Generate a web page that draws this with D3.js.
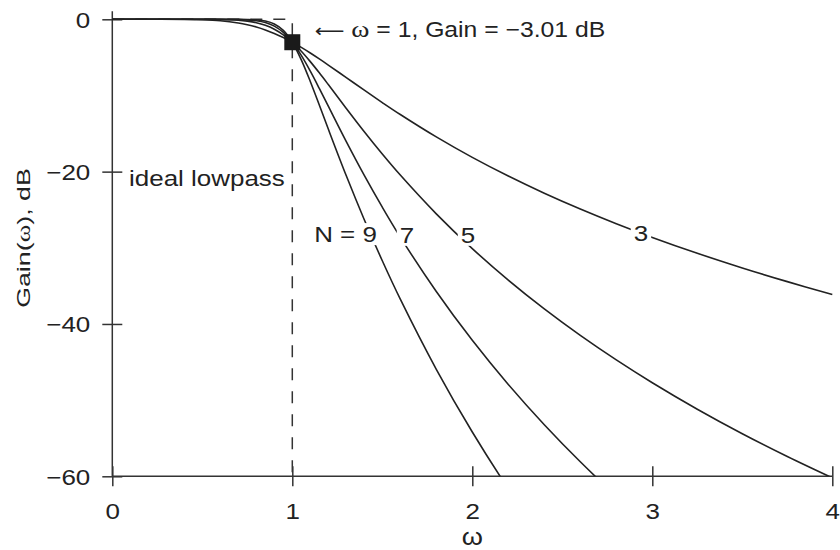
<!DOCTYPE html>
<html>
<head>
<meta charset="utf-8">
<script src="https://cdn.jsdelivr.net/npm/d3@7"></script>
<style>
  html, body { margin: 0; padding: 0; background: #fff; }
  svg { display: block; }
  text { font-family: "Liberation Sans", Arial, Helvetica, sans-serif; fill: #222; }
</style>
</head>
<body>
<svg id="chart" width="840" height="550"></svg>
<script>
// Butterworth lowpass magnitude response, gain in dB, for orders N = 3, 5, 7, 9
const omega = [0, 0.2, 0.4, 0.5, 0.6, 0.7, 0.75, 0.8, 0.85, 0.9, 0.95, 1.0, 1.05, 1.1, 1.15, 1.2,
               1.3, 1.4, 1.5, 1.6, 1.8, 2.0, 2.2, 2.4, 2.6, 2.8, 3.0, 3.25, 3.5, 3.75, 4.0];

const gainN3 = [0, 0, -0.018, -0.067, -0.198, -0.483, -0.711, -1.011, -1.390, -1.851, -2.393, -3.010,
                -3.692, -4.427, -5.202, -6.005, -7.654, -9.309, -10.931, -12.499, -15.442, -18.129,
                -20.583, -22.835, -24.912, -26.838, -28.633, -30.717, -32.646, -34.443, -36.125];
const gainN5 = [0, 0, 0, -0.004, -0.026, -0.121, -0.238, -0.443, -0.781, -1.299, -2.038, -3.010,
                -4.198, -5.556, -7.029, -8.568, -11.699, -14.760, -17.684, -20.451, -25.539, -30.107,
                -34.244, -38.022, -41.498, -44.716, -47.712, -51.188, -54.407, -57.403, -60.206];
const gainN7 = [0, 0, 0, 0, -0.003, -0.029, -0.077, -0.187, -0.425, -0.895, -1.725, -3.010,
                -4.742, -6.810, -9.072, -11.411, -16.061, -20.497, -24.667, -28.593, -35.734, -42.145,
                -47.939, -53.229, -58.096, -62.602, -66.797, -71.663, -76.170, -80.364, -84.288];
const gainN9 = [0, 0, 0, 0, 0, -0.007, -0.024, -0.078, -0.227, -0.607, -1.453, -3.010,
                -5.323, -8.169, -11.263, -14.413, -20.548, -26.313, -31.699, -36.743, -45.949, -54.185,
                -61.636, -68.438, -74.695, -80.489, -85.882, -92.138, -97.933, -103.325, -108.371];

const orders = ["3", "5", "7", "9"];
const seriesGain = [gainN3, gainN5, gainN7, gainN9];

// curve labels: text, and the ω / gain where each one sits on its curve
const curveLabels = ["N = 9", "7", "5", "3"];
const curveLabelOmega = [1.47, 1.637, 1.976, 2.937];
const curveLabelGain = [-28.2, -28.3, -28.3, -28.1];

const xTicks = [0, 1, 2, 3, 4];
const yTicks = [0, -20, -40, -60];

// cutoff point
const cutoffOmega = 1;
const cutoffGain = -3.01;

const svg = d3.select("#chart");
const ink = "#222";
const sx = 1.18; // horizontal stretch of the lettering

const x = d3.scaleLinear().domain([0, 4]).range([112.3, 832.3]);
const y = d3.scaleLinear().domain([-60, 0]).range([476.3, 19.3]);

// turn a text's x/y into a translate and widen its glyphs
function stretch(sel, k) {
  sel.each(function () {
    const t = d3.select(this);
    const tx = +t.attr("x") || 0, ty = +t.attr("y") || 0;
    t.attr("x", null).attr("y", null)
     .attr("transform", `translate(${tx},${ty}) scale(${k},1)`);
  });
}

// clip region: plot area
svg.append("defs").append("clipPath").attr("id", "plot")
  .append("rect")
  .attr("x", x(0)).attr("y", y(0) - 20)
  .attr("width", x(4) - x(0) + 2).attr("height", y(-60) - y(0) + 20);

// axes
const yAxis = svg.append("g")
  .attr("transform", `translate(${x(0)},0)`)
  .call(d3.axisLeft(y).tickValues(yTicks).tickSize(10).tickSizeOuter(0).tickPadding(12)
        .tickFormat(d => d === 0 ? "0" : "\u2212" + Math.abs(d)));
yAxis.select(".domain").remove();
yAxis.selectAll(".tick line").attr("x1", 10).attr("x2", -10).attr("stroke", "#333").attr("stroke-width", 1.5);
yAxis.selectAll(".tick text").attr("font-size", 22).attr("fill", ink).attr("dy", "0.36em")
  .attr("font-family", "Liberation Sans, Arial, sans-serif").call(stretch, sx);

const xAxis = svg.append("g")
  .attr("transform", `translate(0,${y(-60)})`)
  .call(d3.axisBottom(x).tickValues(xTicks).tickSize(10).tickSizeOuter(0).tickPadding(12)
        .tickFormat(d3.format("d")));
xAxis.select(".domain").remove();
xAxis.selectAll(".tick line").attr("y1", -10).attr("y2", 10).attr("stroke", "#333").attr("stroke-width", 1.5);
xAxis.selectAll(".tick text").attr("font-size", 22).attr("fill", ink).attr("dy", "0.95em")
  .attr("font-family", "Liberation Sans, Arial, sans-serif").call(stretch, sx);

// axis lines
svg.append("line")
  .attr("x1", x(0)).attr("x2", x(0)).attr("y1", y(0) - 8).attr("y2", y(-60))
  .attr("stroke", "#333").attr("stroke-width", 1.5);
svg.append("line")
  .attr("x1", x(0)).attr("x2", x(4)).attr("y1", y(-60)).attr("y2", y(-60))
  .attr("stroke", "#333").attr("stroke-width", 1.5);

// ideal lowpass (brick wall)
svg.append("path")
  .attr("d", d3.line().x(d => x(d[0])).y(d => y(d[1]))([[0, 0], [1, 0], [1, -60]]))
  .attr("fill", "none").attr("stroke", "#333").attr("stroke-width", 1.5)
  .attr("stroke-dasharray", "12,11");

// Butterworth curves
const line = d3.line()
  .x((d, i) => x(omega[i]))
  .y(d => y(d))
  .curve(d3.curveCatmullRom.alpha(0.5));

svg.append("g").attr("clip-path", "url(#plot)")
  .selectAll("path.curve")
  .data(seriesGain)
  .join("path")
  .attr("class", "curve")
  .attr("d", line)
  .attr("fill", "none")
  .attr("stroke", ink)
  .attr("stroke-width", 1.6);

// curve labels with a white knockout behind them
const lab = svg.append("g");
curveLabels.forEach((t, i) => {
  const g = lab.append("g");
  const txt = g.append("text")
    .attr("x", x(curveLabelOmega[i])).attr("y", y(curveLabelGain[i]))
    .attr("dy", "0.36em")
    .attr("text-anchor", i === 0 ? "end" : "middle")
    .attr("font-size", 22)
    .text(t)
    .call(stretch, sx);
  const bb = txt.node().getBBox();
  const w = bb.width * sx;
  const cx = x(curveLabelOmega[i]);
  const left = i === 0 ? cx - w : cx - w / 2;
  g.insert("rect", "text")
    .attr("x", left - 3).attr("y", y(curveLabelGain[i]) - 11)
    .attr("width", w + 6).attr("height", 22)
    .attr("fill", "#fff");
});

// "ideal lowpass" label
svg.append("text")
  .attr("x", x(0.093)).attr("y", y(-20.8))
  .attr("dy", "0.36em")
  .attr("font-size", 22)
  .text("ideal lowpass")
  .call(stretch, sx);

// cutoff marker
svg.append("rect")
  .attr("x", x(cutoffOmega) - 8).attr("y", y(cutoffGain) - 8)
  .attr("width", 16).attr("height", 16)
  .attr("fill", "#1a1a1a");

// cutoff annotation
const ann = svg.append("text")
  .attr("x", x(1.125)).attr("y", y(-1.27))
  .attr("dy", "0.36em")
  .attr("font-size", 21.5);
ann.append("tspan").attr("font-family", "DejaVu Sans, sans-serif").attr("font-size", 18).text("\u27f5");
ann.append("tspan").text(" ");
ann.append("tspan").attr("font-family", "Liberation Serif, Times New Roman, serif").attr("font-size", 24).text("\u03c9");
ann.append("tspan").text(" = 1, Gain = \u22123.01 dB");
ann.call(stretch, 1.15);

// axis titles
svg.append("text")
  .attr("x", x(2)).attr("y", 538)
  .attr("dy", "0.3em")
  .attr("text-anchor", "middle")
  .attr("font-family", "Liberation Serif, Times New Roman, serif")
  .attr("font-size", 23)
  .text("\u03c9")
  .call(stretch, sx);

const yt = svg.append("text")
  .attr("transform", `translate(23,238) rotate(-90) scale(1.41,1)`)
  .attr("dy", "0.36em")
  .attr("text-anchor", "middle")
  .attr("font-size", 19);
yt.append("tspan").text("Gain(");
yt.append("tspan").attr("font-family", "Liberation Serif, Times New Roman, serif").text("\u03c9");
yt.append("tspan").text("), dB");
</script>
</body>
</html>
